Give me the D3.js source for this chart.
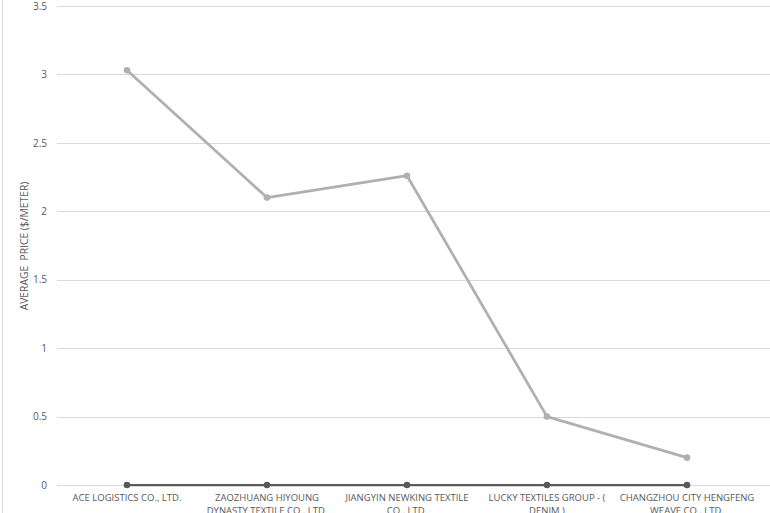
<!DOCTYPE html>
<html><head><meta charset="utf-8">
<script src="https://cdn.jsdelivr.net/npm/d3@7"></script>
<style>body{margin:0;background:#fff;}svg{display:block;}</style>
</head><body>
<script>
const categories = ["ACE LOGISTICS CO., LTD.", "ZAOZHUANG HIYOUNG DYNASTY TEXTILE CO., LTD.", "JIANGYIN NEWKING TEXTILE CO., LTD.", "LUCKY TEXTILES GROUP - ( DENIM )", "CHANGZHOU CITY HENGFENG WEAVE CO., LTD."];
const averagePrice = [3.03, 2.10, 2.26, 0.50, 0.20];
const baseSeries = [0, 0, 0, 0, 0];
const yTicks = [0, 0.5, 1, 1.5, 2, 2.5, 3, 3.5];
const yTitle = "AVERAGE  PRICE ($/METER)";

const W = 770, H = 513;
const svg = d3.select("body").append("svg").attr("width", W).attr("height", H);
const font = "'Open Sans', 'Liberation Sans', sans-serif";
const textColor = "#595959";

const x = d3.scaleBand().domain(categories).range([57, 757]);
const y = d3.scaleLinear().domain([0, 3.5]).range([485, 6]);

// left border
svg.append("line").attr("x1", 2.5).attr("x2", 2.5).attr("y1", 0).attr("y2", H).attr("stroke", "#d9d9d9").attr("stroke-width", 1);

// gridlines
svg.append("g").selectAll("line").data(yTicks).join("line")
  .attr("x1", 57).attr("x2", 770)
  .attr("y1", d => Math.round(y(d)) + 0.5).attr("y2", d => Math.round(y(d)) + 0.5)
  .attr("stroke", "#d9d9d9").attr("stroke-width", 1);

// y axis labels
const yAxis = d3.axisLeft(y).tickValues(yTicks).tickSize(0).tickPadding(0).tickFormat(d => String(d));
const ga = svg.append("g").attr("transform", "translate(47,0)").call(yAxis);
ga.select(".domain").remove();
ga.selectAll("text").attr("fill", textColor).style("font-family", font).style("font-size", "10px");

// y title
svg.append("text").attr("transform", "translate(28,246) rotate(-90)")
  .attr("text-anchor", "middle").attr("fill", textColor)
  .style("font-family", font).style("font-size", "10.3px")
  .text(yTitle.replace(/  /g, " \u00a0"));

// x labels with wrap
const cx = d => x(d) + x.bandwidth() / 2;
const xl = svg.append("g");
categories.forEach(c => {
  const t = xl.append("text").attr("x", cx(c)).attr("y", 501).attr("text-anchor", "middle")
    .attr("fill", textColor).style("font-family", font).style("font-size", "9.5px");
  const words = c.split(" ");
  let line = [];
  let ts = t.append("tspan").attr("x", cx(c)).attr("dy", 0);
  words.forEach(w => {
    line.push(w);
    ts.text(line.join(" "));
    if (ts.node().getComputedTextLength() > 136 && line.length > 1) {
      line.pop(); ts.text(line.join(" "));
      line = [w];
      ts = t.append("tspan").attr("x", cx(c)).attr("dy", "1.35em").text(w);
    }
  });
});

// series lines
const lineGen = d3.line().x((d, i) => cx(categories[i])).y(d => y(d));
svg.append("path").datum(baseSeries).attr("d", lineGen).attr("fill", "none").attr("stroke", "#595959").attr("stroke-width", 2.25);
svg.append("g").selectAll("circle").data(baseSeries).join("circle")
  .attr("cx", (d, i) => cx(categories[i])).attr("cy", d => y(d)).attr("r", 3.3).attr("fill", "#595959");

svg.append("path").datum(averagePrice).attr("d", lineGen).attr("fill", "none").attr("stroke", "#b0b0b0").attr("stroke-width", 2.75).attr("stroke-linejoin", "round");
svg.append("g").selectAll("circle").data(averagePrice).join("circle")
  .attr("cx", (d, i) => cx(categories[i])).attr("cy", d => y(d)).attr("r", 3.3).attr("fill", "#b0b0b0");
</script>
</body></html>
